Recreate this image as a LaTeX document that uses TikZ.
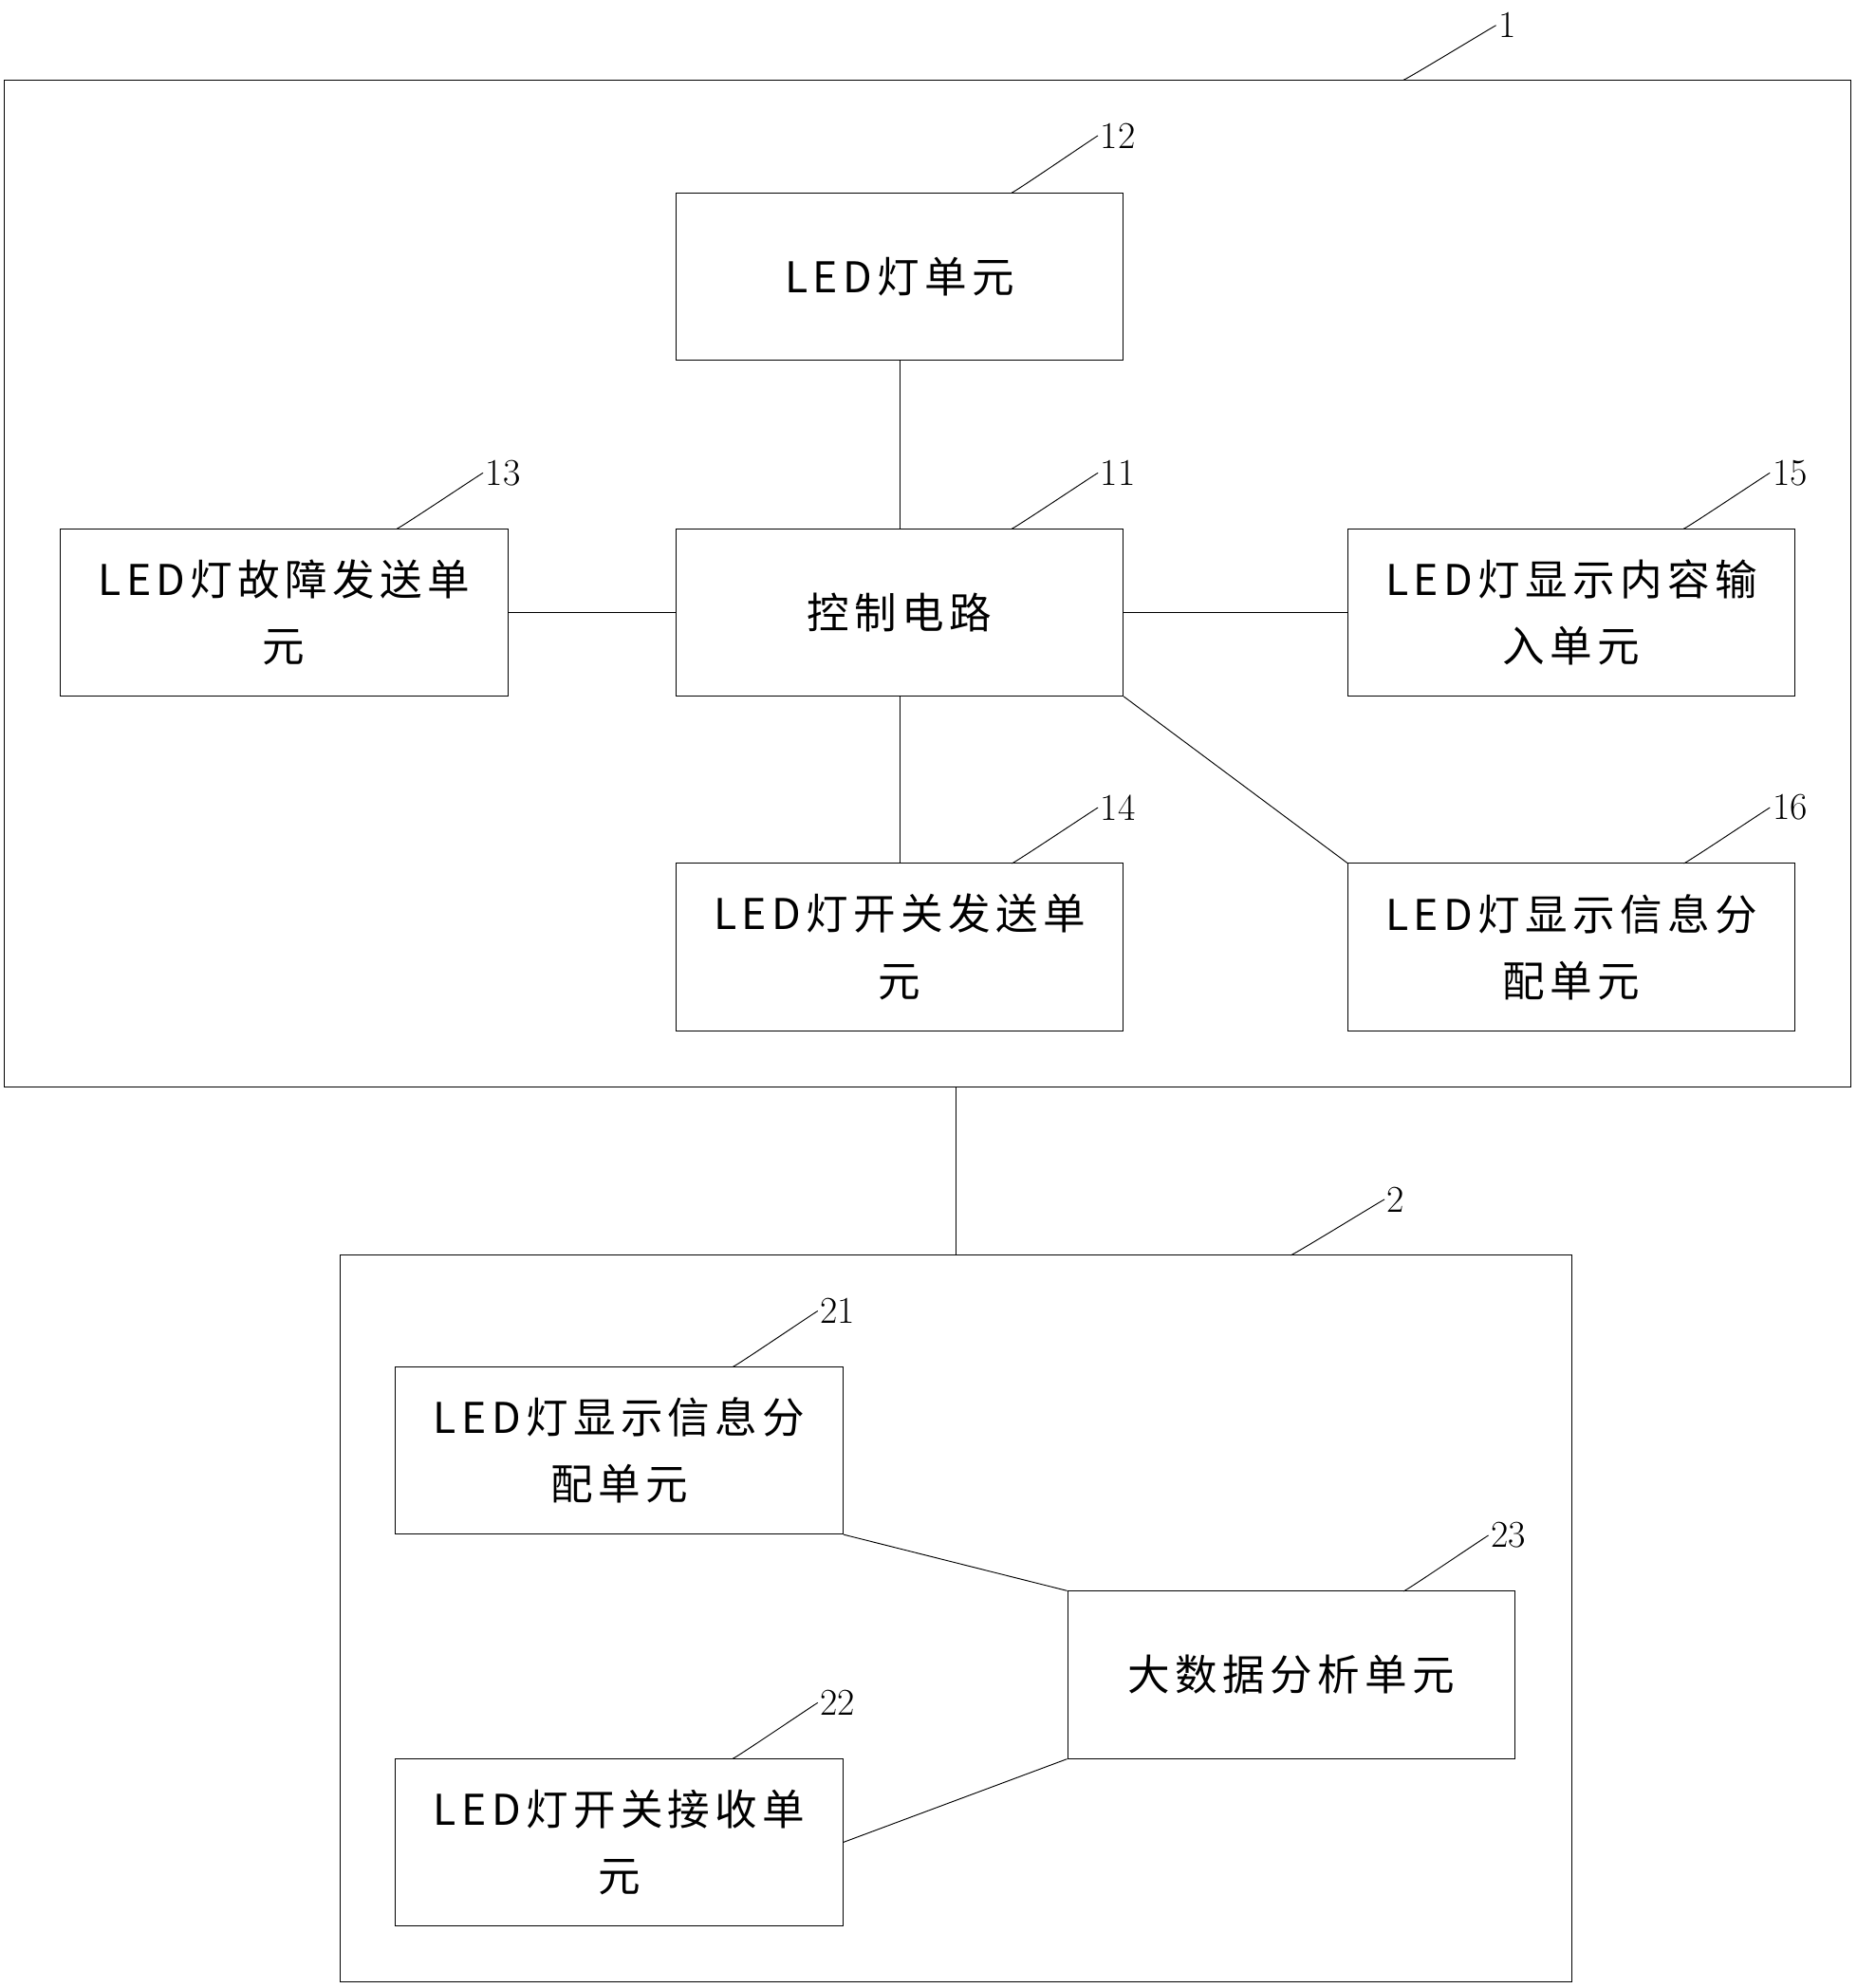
\documentclass[tikz,border=0pt]{standalone}
\usepackage{fontspec}
\newfontfamily\cjk{Noto Sans CJK SC}[LetterSpace=12]
\usetikzlibrary{positioning}
\tikzset{
  unit/.style={draw, minimum width=7.06cm, minimum height=2.64cm, align=center,
    font=\cjk\fontsize{19}{30}\selectfont, inner sep=0pt},
  frame/.style={draw},
  num/.style={font=\fontsize{17}{20}\selectfont, anchor=west, inner sep=1pt},
  leader/.style={thin}
}
\newcommand{\leadto}[2]{\draw[leader] (#1) .. controls +(0.15,1.0) and +(-0.6,0) .. (#2.west);}
\begin{document}
\begin{tikzpicture}[x=0.02cm,y=-0.02cm]
  \useasboundingbox (0,0) rectangle (1464,1568);
  % outer frames
  \draw[frame] (3,63) rectangle (1460,857);
  \draw[frame] (268,990) rectangle (1240,1563);
  \coordinate (f1s) at (754,857);
  \coordinate (f2n) at (754,990);
  % units of part 1
  \node[unit] (led)    at (709.5,218) {LED灯单元};
  \node[unit] (ctrl)   at (709.5,483) {控制电路};
  \node[unit] (fault)  at (224,483)   {LED灯故障发送单\\元};
  \node[unit] (input)  at (1239.5,483) {LED灯显示内容输\\入单元};
  \node[unit] (switch) at (709.5,747) {LED灯开关发送单\\元};
  \node[unit] (assign) at (1239.5,747) {LED灯显示信息分\\配单元};
  % units of part 2
  \node[unit] (recv)   at (488.5,1144) {LED灯显示信息分\\配单元};
  \node[unit] (big)    at (1018.5,1321) {大数据分析单元};
  \node[unit] (onoff)  at (488.5,1453) {LED灯开关接收单\\元};
  % connectors
  \draw (led) -- (ctrl);
  \draw (fault) -- (ctrl);
  \draw (ctrl) -- (input);
  \draw (ctrl) -- (switch);
  \draw (ctrl.south east) -- (assign.north west);
  \draw (f1s) -- (f2n);
  \draw (recv.south east) -- (big.north west);
  \draw (onoff.east) -- (big.south west);
  % reference numbers
  \node[num] (n1)  at (1180,20)  {1};
  \node[num] (n12) at (866,107)  {12};
  \node[num] (n13) at (381,373)  {13};
  \node[num] (n11) at (866,373)  {11};
  \node[num] (n15) at (1396,373) {15};
  \node[num] (n14) at (866,637)  {14};
  \node[num] (n16) at (1396,637) {16};
  \node[num] (n2)  at (1092,946) {2};
  \node[num] (n21) at (645,1034) {21};
  \node[num] (n23) at (1174,1211) {23};
  \node[num] (n22) at (645,1343) {22};
  \coordinate (a1)  at (1107,63);
  \coordinate (a12) at (798,152);
  \coordinate (a13) at (313,417);
  \coordinate (a11) at (798,417);
  \coordinate (a15) at (1328,417);
  \coordinate (a14) at (798,681);
  \coordinate (a16) at (1328,681);
  \coordinate (a2)  at (1018,990);
  \coordinate (a21) at (578,1078);
  \coordinate (a23) at (1107,1255);
  \coordinate (a22) at (578,1387);
  \foreach \k in {1,12,13,11,15,14,16,2,21,23,22} {\leadto{a\k}{n\k}}
\end{tikzpicture}
\end{document}
